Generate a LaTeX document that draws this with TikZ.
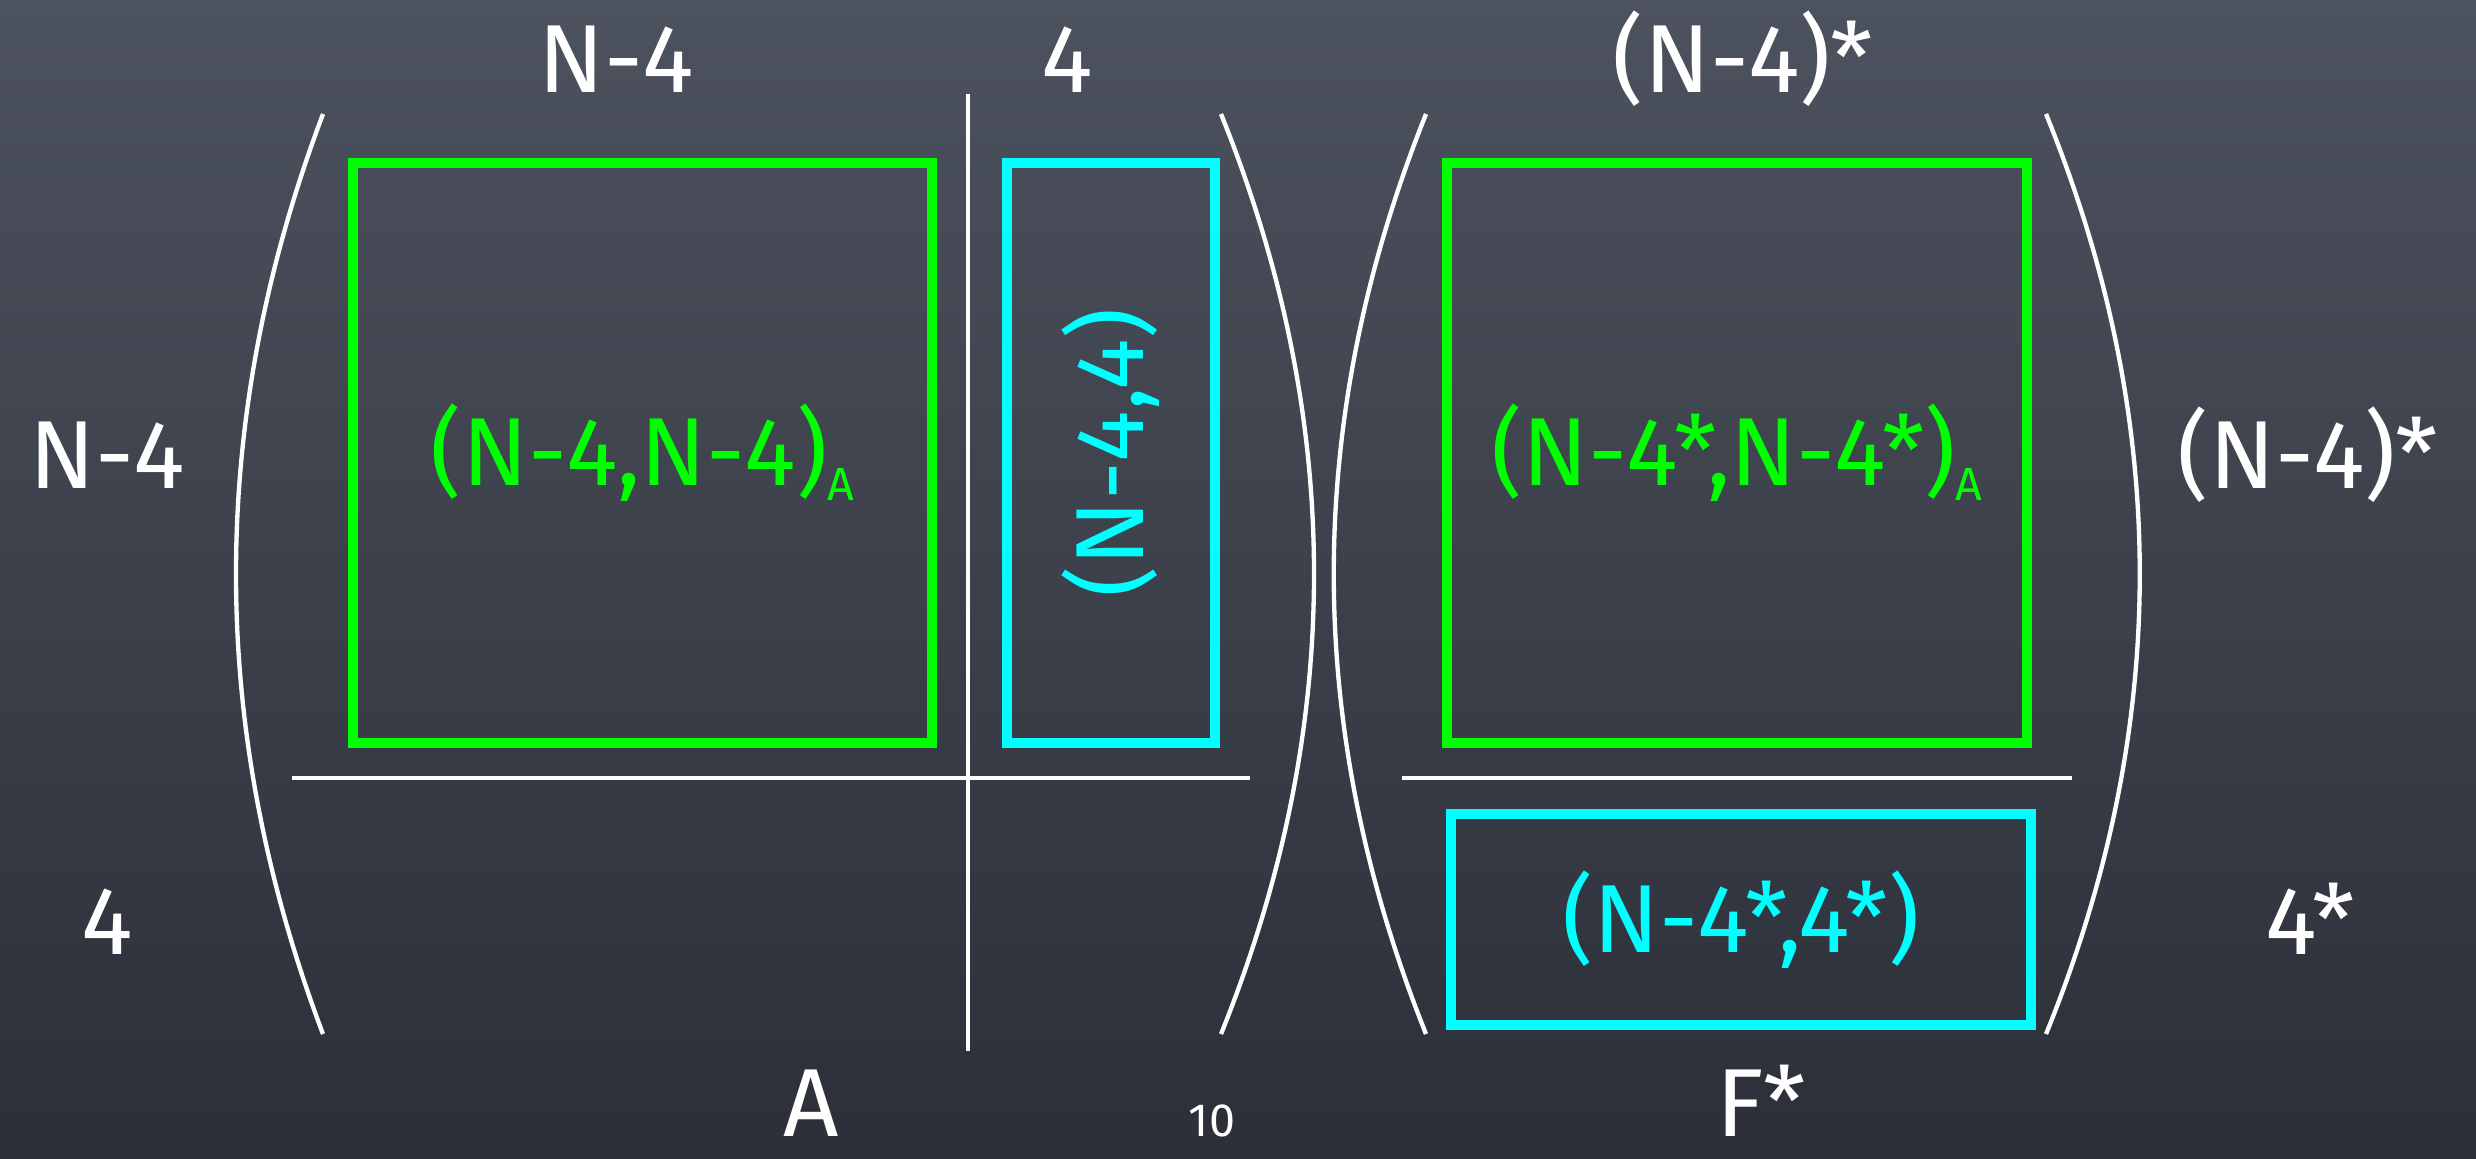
\documentclass[tikz,border=0pt]{standalone}
\usepackage{fontspec}
\setmainfont{Fira Sans}
\definecolor{boardtop}{HTML}{4C525E}
\definecolor{boardbot}{HTML}{2C2F38}
\definecolor{chalkgreen}{HTML}{00FF00}
\definecolor{chalkcyan}{HTML}{00FFFF}
\newcommand\subA{\raisebox{-0.15em}{\fontsize{14}{14}\selectfont A}}
\begin{document}
\begin{tikzpicture}[x=0.3pt,y=-0.3pt,
  bigfont/.style={font=\fontsize{29}{32}\selectfont},
  lbl/.style={bigfont, text=white, inner sep=0pt, anchor=base},
  gbox/.style={bigfont, draw=chalkgreen, line width=3pt, text=chalkgreen, inner sep=0pt},
  cbox/.style={bigfont, draw=chalkcyan, line width=3pt, text=chalkcyan, inner sep=0pt},
  paren/.style={draw=white, line width=1.3pt},
  rulex/.style={draw=white, line width=1.3pt}]
\shade[top color=boardtop, bottom color=boardbot] (0,0) rectangle (2476,1158);
\useasboundingbox (0,0) rectangle (2476,1158);

% boxes
\node[gbox, minimum width=173.7pt, minimum height=174pt] (ga) at (642.5,453) {(N-4,N-4)\subA};
\node[cbox, minimum width=62.4pt, minimum height=174pt] (ca) at (1111,453) {};
\node[text=chalkcyan, bigfont, rotate=90, inner sep=0pt] (cat) at (ca.center) {(N-4,4)};
\node[gbox, minimum width=174pt, minimum height=174pt] (gf) at (1737,453) {(N-4*,N-4*)\subA};
\node[cbox, minimum width=174pt, minimum height=63.3pt] (cf) at (1741,919.5) {(N-4*,4*)};

% rules
\coordinate (vt) at (968,94);
\coordinate (vb) at (968,1051);
\coordinate (hl) at (292,778);
\coordinate (hr) at (1250,778);
\coordinate (fl) at (1402,778);
\coordinate (fr) at (2072,778);
\draw[rulex] (vt) -- (vb);
\draw[rulex] (hl) -- (hr);
\draw[rulex] (fl) -- (fr);

% parentheses
\draw[paren] (323,114) .. controls (207,421) and (207,727) .. (323,1034);
\draw[paren] (1221,114) .. controls (1345,421) and (1345,727) .. (1221,1034);
\draw[paren] (1426,114) .. controls (1303,421) and (1303,727) .. (1426,1034);
\draw[paren] (2046,114) .. controls (2171,421) and (2171,727) .. (2046,1034);

% labels
\node[lbl] (tn) at (616,92) {N-4};
\node[lbl] (t4) at (1067,92) {4};
\node[lbl] (tf) at (1743,92) {(N-4)*};
\node[lbl] (ln) at (107,488) {N-4};
\node[lbl] (l4) at (107,954) {4};
\node[lbl] (rn) at (2308,488) {(N-4)*};
\node[lbl] (r4) at (2310,954) {4*};
\node[lbl] (ba) at (811,1136) {A};
\node[lbl] (bf) at (1761,1136) {F*};
\node[lbl, font=\fontsize{14}{16}\selectfont] (pg) at (1212,1136) {10};
\end{tikzpicture}
\end{document}
